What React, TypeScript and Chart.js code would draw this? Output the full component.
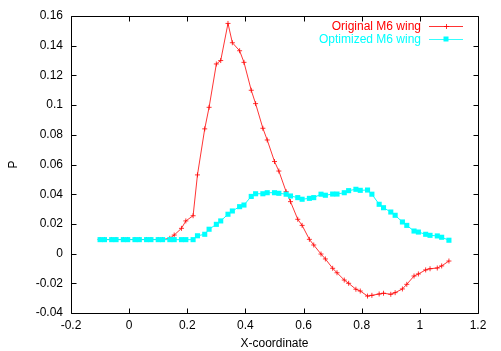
import React, { useEffect, useRef } from "react";
import { Chart, registerables } from "chart.js";

Chart.register(...registerables);

const xValues = [
  -0.1, -0.085, -0.06, -0.045, -0.02, -0.005, 0.02, 0.035, 0.06, 0.075, 0.1, 0.115,
  0.14, 0.155, 0.18, 0.195, 0.22, 0.235, 0.26, 0.275, 0.3, 0.315, 0.34, 0.355,
  0.38, 0.395, 0.42, 0.435, 0.46, 0.475, 0.5, 0.515, 0.54, 0.555, 0.58, 0.595,
  0.62, 0.635, 0.66, 0.675, 0.7, 0.715, 0.74, 0.755, 0.78, 0.795, 0.82, 0.835,
  0.86, 0.875, 0.9, 0.915, 0.94, 0.955, 0.98, 0.995, 1.02, 1.035, 1.06, 1.075, 1.1,
];

const originalValues = [
  0.0095, 0.0095, 0.0095, 0.0095, 0.0095, 0.0095, 0.0095, 0.0095, 0.0095, 0.0095, 0.0095, 0.0095,
  0.0103, 0.0125, 0.017, 0.022, 0.0255, 0.053, 0.084, 0.0985, 0.1277, 0.13, 0.155, 0.142,
  0.1366, 0.1288, 0.11, 0.101, 0.0844, 0.0765, 0.062, 0.0556, 0.0417, 0.035, 0.0231, 0.019,
  0.0096, 0.0058, -0.0003, -0.0036, -0.0099, -0.0129, -0.0178, -0.02, -0.024, -0.0252, -0.0286, -0.0281,
  -0.0272, -0.0267, -0.0274, -0.0263, -0.0238, -0.0207, -0.0151, -0.0137, -0.011, -0.0102, -0.0097, -0.0083, -0.005,
];

const optimizedValues = [
  0.0094, 0.0094, 0.0094, 0.0094, 0.0094, 0.0094, 0.0094, 0.0094, 0.0094, 0.0094, 0.0094, 0.0094,
  0.0094, 0.0094, 0.0094, 0.0094, 0.0094, 0.012, 0.013, 0.0164, 0.0197, 0.022, 0.0265, 0.0287,
  0.0316, 0.0327, 0.0385, 0.0403, 0.0403, 0.041, 0.041, 0.0406, 0.04, 0.0388, 0.0377, 0.0366,
  0.0372, 0.0377, 0.04, 0.0393, 0.0401, 0.0401, 0.041, 0.0424, 0.0433, 0.0426, 0.0428, 0.04,
  0.0332, 0.0309, 0.028, 0.0258, 0.0213, 0.019, 0.0152, 0.0145, 0.013, 0.0123, 0.0119, 0.011, 0.009,
];

const xTicks = [-0.2, 0, 0.2, 0.4, 0.6, 0.8, 1, 1.2];
const xTickLabels = ["-0.2", "0", "0.2", "0.4", "0.6", "0.8", "1", "1.2"];
const yTicks = [-0.04, -0.02, 0, 0.02, 0.04, 0.06, 0.08, 0.1, 0.12, 0.14, 0.16];
const yTickLabels = ["-0.04", "-0.02", "0", "0.02", "0.04", "0.06", "0.08", "0.1", "0.12", "0.14", "0.16"];

const seriesNames = ["Original M6 wing", "Optimized M6 wing"];
const seriesColors = ["#ff0000", "#00ffff"];
const xTitle = "X-coordinate";
const yTitle = "P";

const FONT = "'Liberation Sans', Arial, sans-serif";

export default function App() {
  const ref = useRef<HTMLCanvasElement>(null);

  useEffect(() => {
    if (!ref.current) return;

    const framePlugin = {
      id: "gnuFrame",
      afterDraw(chart: any) {
        const ctx = chart.ctx;
        const a = chart.chartArea;
        const xs = chart.scales.x;
        const ys = chart.scales.y;
        const L = Math.round(a.left) + 0.5;
        const R = Math.round(a.right) + 0.5;
        const T = Math.round(a.top) + 0.5;
        const B = Math.round(a.bottom) + 0.5;
        ctx.save();
        ctx.strokeStyle = "#000";
        ctx.lineWidth = 1;
        ctx.beginPath();
        ctx.rect(L, T, R - L, B - T);
        const tl = 5;
        xTicks.forEach((v) => {
          const px = Math.round(xs.getPixelForValue(v)) + 0.5;
          ctx.moveTo(px, B);
          ctx.lineTo(px, B - tl);
          ctx.moveTo(px, T);
          ctx.lineTo(px, T + tl);
        });
        yTicks.forEach((v) => {
          const py = Math.round(ys.getPixelForValue(v)) + 0.5;
          ctx.moveTo(L, py);
          ctx.lineTo(L + tl, py);
          ctx.moveTo(R, py);
          ctx.lineTo(R - tl, py);
        });
        ctx.stroke();

        // legend (gnuplot style, top right)
        ctx.font = `12px ${FONT}`;
        ctx.textAlign = "right";
        ctx.textBaseline = "middle";
        seriesNames.forEach((name, i) => {
          const y = Math.round(a.top + 10 + i * 13.3) + 0.5;
          const color = seriesColors[i];
          ctx.fillStyle = color;
          ctx.fillText(name, a.right - 57, y);
          ctx.strokeStyle = color;
          ctx.lineWidth = 0.8;
          ctx.beginPath();
          ctx.moveTo(a.right - 49, y);
          ctx.lineTo(a.right - 15, y);
          ctx.stroke();
          const mx = Math.round(a.right - 32) + 0.5;
          if (i === 0) {
            ctx.beginPath();
            ctx.moveTo(mx - 2.5, y);
            ctx.lineTo(mx + 2.5, y);
            ctx.moveTo(mx, y - 2.5);
            ctx.lineTo(mx, y + 2.5);
            ctx.stroke();
          } else {
            ctx.fillRect(mx - 3, y - 3, 5, 5);
          }
        });
        ctx.restore();
      },
    };

    const chart = new Chart(ref.current, {
      type: "line",
      data: {
        datasets: [
          {
            label: seriesNames[1],
            data: xValues.map((x, i) => ({ x, y: optimizedValues[i] })),
            borderColor: seriesColors[1],
            backgroundColor: seriesColors[1],
            borderWidth: 1,
            pointStyle: "rect",
            pointRadius: 3.6,
            pointBorderWidth: 0,
            pointBackgroundColor: seriesColors[1],
            fill: false,
            tension: 0,
          },
          {
            label: seriesNames[0],
            data: xValues.map((x, i) => ({ x, y: originalValues[i] })),
            borderColor: seriesColors[0],
            backgroundColor: seriesColors[0],
            borderWidth: 0.8,
            pointStyle: "cross",
            pointRadius: 2.5,
            pointBorderWidth: 0.8,
            pointBorderColor: seriesColors[0],
            fill: false,
            tension: 0,
          },
        ],
      },
      options: {
        responsive: false,
        animation: false,
        events: [],
        layout: { padding: { left: 0, right: 23, top: 16, bottom: 0 } },
        plugins: { legend: { display: false }, tooltip: { enabled: false } },
        scales: {
          x: {
            type: "linear",
            min: -0.2,
            max: 1.2,
            afterBuildTicks: (s: any) => {
              s.ticks = xTicks.map((v) => ({ value: v }));
            },
            afterFit: (s: any) => {
              s.height = 38;
            },
            ticks: {
              callback: (_v: any, i: number) => xTickLabels[i],
              color: "#000",
              font: { size: 12, family: FONT },
              padding: 5,
              maxRotation: 0,
              autoSkip: false,
            },
            grid: { display: false, drawTicks: false },
            border: { display: false },
            title: {
              display: true,
              text: xTitle,
              color: "#000",
              font: { size: 12, family: FONT },
              padding: { top: 4, bottom: 0 },
            },
          },
          y: {
            type: "linear",
            min: -0.04,
            max: 0.16,
            afterBuildTicks: (s: any) => {
              s.ticks = yTicks.map((v) => ({ value: v }));
            },
            afterFit: (s: any) => {
              s.width = 71;
            },
            ticks: {
              callback: (_v: any, i: number) => yTickLabels[i],
              color: "#000",
              font: { size: 12, family: FONT },
              padding: 8,
              autoSkip: false,
            },
            grid: { display: false, drawTicks: false },
            border: { display: false },
            title: {
              display: true,
              text: yTitle,
              color: "#000",
              font: { size: 12, family: FONT },
              padding: { top: 6, bottom: 0 },
            },
          },
        },
      },
      plugins: [framePlugin],
    });

    return () => chart.destroy();
  }, []);

  return (
    <div style={{ position: "absolute", left: 0, top: 0, width: 501, height: 351, background: "#fff" }}>
      <canvas ref={ref} width={501} height={351} style={{ display: "block", width: 501, height: 351 }} />
    </div>
  );
}
